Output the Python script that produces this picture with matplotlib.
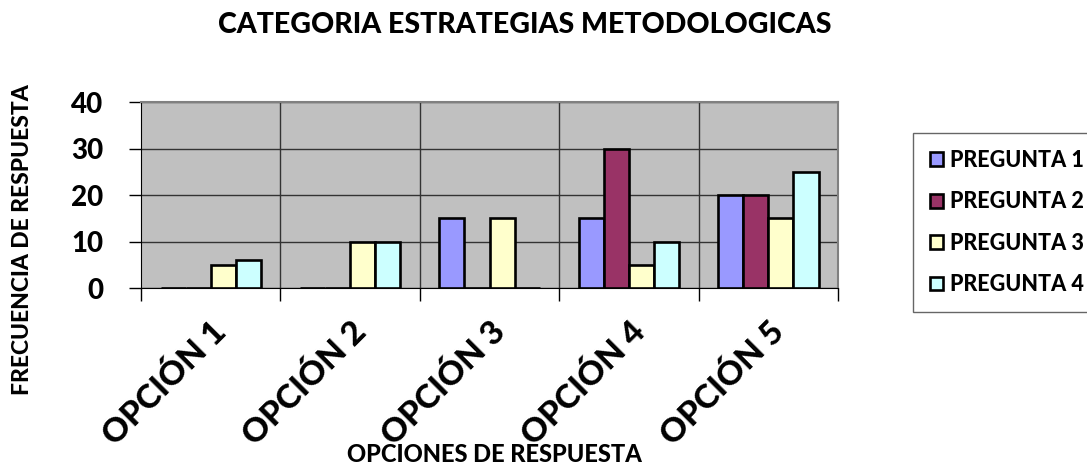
import numpy as np
import matplotlib
matplotlib.use("Agg")
import matplotlib.pyplot as plt
from matplotlib.ticker import FixedLocator

plt.rcParams['font.family'] = ['Lato', 'DejaVu Sans']
plt.rcParams['font.weight'] = 'black'

categories = ['OPCIÓN 1', 'OPCIÓN 2', 'OPCIÓN 3', 'OPCIÓN 4', 'OPCIÓN 5']
series_names = ['PREGUNTA 1', 'PREGUNTA 2', 'PREGUNTA 3', 'PREGUNTA 4']
pregunta1 = [0, 0, 15, 15, 20]
pregunta2 = [0, 0, 0, 30, 20]
pregunta3 = [5, 10, 15, 5, 15]
pregunta4 = [6, 10, 0, 10, 25]
y_ticks = [0, 10, 20, 30, 40]

colors = ['#9999FF', '#993366', '#FFFFCC', '#CCFFFF']
series = [pregunta1, pregunta2, pregunta3, pregunta4]
FW = 'black'

fig = plt.figure(figsize=(10.87, 4.68), dpi=100)
ax = fig.add_axes([0.1297, 0.3846, 0.6413, 0.3974])
ax.set_facecolor('#C0C0C0')

x = np.arange(len(categories))
w = 0.18
for j, (vals, name, c) in enumerate(zip(series, series_names, colors)):
    ax.bar(x + (j - 1.5) * w, vals, width=w, color=c, edgecolor='black',
           linewidth=1.9, label=name, zorder=3)

ax.set_xlim(-0.5, len(categories) - 0.5)
ax.set_ylim(0, 40)
ax.set_yticks(y_ticks)
ax.set_yticklabels([str(v) for v in y_ticks], fontsize=20, fontweight=FW)
ax.tick_params(axis='y', length=9, width=1, pad=18)

# category labels at centers, tick marks at boundaries
ax.set_xticks(x)
ax.set_xticklabels(categories, rotation=45, ha='right', va='top',
                   rotation_mode='anchor', fontsize=24, fontweight=FW)
ax.tick_params(axis='x', which='major', length=0, pad=20)
ax.xaxis.set_minor_locator(FixedLocator(np.arange(-0.5, len(categories), 1.0)))
ax.tick_params(axis='x', which='minor', length=9, width=1)

ax.grid(axis='y', color='#333333', linewidth=1, zorder=1)
for b in np.arange(0.5, len(categories) - 0.5, 1.0):
    ax.axvline(b, color='#333333', linewidth=1, zorder=1)
ax.set_axisbelow(True)

for s in ['top', 'right']:
    ax.spines[s].set_color('#808080')
    ax.spines[s].set_linewidth(1.5)
ax.spines['left'].set_color('black')
ax.spines['bottom'].set_color('black')

fig.text(0.021, 1 - 240 / 468, 'FRECUENCIA DE RESPUESTA', rotation=90,
         ha='center', va='center', fontsize=16.5, fontweight=FW)
fig.text(0.455, 1 - 454 / 468, 'OPCIONES DE RESPUESTA', ha='center',
         va='center', fontsize=17, fontweight=FW)
fig.text(0.483, 1 - 25 / 468, 'CATEGORIA ESTRATEGIAS METODOLOGICAS',
         ha='center', va='center', fontsize=20.5, fontweight=FW)

leg = ax.legend(loc='center left', bbox_to_anchor=(913 / 1087, 1 - 222.5 / 468),
                bbox_transform=fig.transFigure, frameon=True,
                prop={'size': 15.5, 'weight': FW},
                fancybox=False, edgecolor='#404040', handlelength=0.6,
                handleheight=0.6, handletextpad=0.3, labelspacing=0.95,
                borderpad=0.8, borderaxespad=0)
leg.get_frame().set_linewidth(1)

fig.savefig('out.png', dpi=100)
